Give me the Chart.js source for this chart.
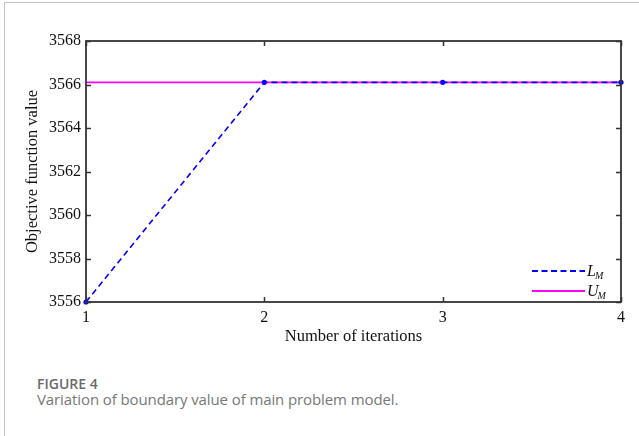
<!DOCTYPE html>
<html>
<head>
<meta charset="utf-8">
<script src="https://cdn.jsdelivr.net/npm/chart.js@4/dist/chart.umd.min.js"></script>
<style>
  html, body { margin: 0; padding: 0; background: #fff; }
  body { width: 639px; height: 436px; position: relative; overflow: hidden; }
  #card { position: absolute; left: 4px; top: 2px; width: 700px; height: 500px;
          border-left: 1px solid #c4c4c4; border-top: 1px solid #c4c4c4; }
  #wrap { position: absolute; left: 0; top: 0; width: 639px; height: 360px; }
  .cap { position: absolute; left: 37px; font-family: "Open Sans", sans-serif; color: #666; line-height: 1; white-space: nowrap; }
  #figno { top: 377px; font-size: 14px; font-weight: 600; color: #6a6a6a; }
  #figtxt { top: 392px; font-size: 15px; font-weight: 400; color: #777; letter-spacing: -0.1px; }
</style>
</head>
<body>
<div id="card"></div>
<div id="wrap"><canvas id="chart" width="639" height="360"></canvas></div>
<div class="cap" id="figno">FIGURE 4</div>
<div class="cap" id="figtxt">Variation of boundary value of main problem model.</div>
<script>
// Iteration numbers and the two bounds of the main problem
const iterations = [1, 2, 3, 4];
const lowerBound = [3556, 3566.1, 3566.1, 3566.1];   // L_M
const upperBound = [3566.1, 3566.1, 3566.1, 3566.1]; // U_M
const yTicks = [3556, 3558, 3560, 3562, 3564, 3566, 3568];
const xTicks = [1, 2, 3, 4];

const serif = '"Liberation Serif", "Times New Roman", serif';
const BLUE = '#0000ff';
const MAGENTA = '#ff00ff';

const toPoints = ys => iterations.map((x, i) => ({ x, y: ys[i] }));

// Box frame with inward tick marks on all four sides
const framePlugin = {
  id: 'frame',
  beforeDatasetsDraw(chart) {
    const { ctx, chartArea: a, scales: { x, y } } = chart;
    ctx.save();
    ctx.strokeStyle = '#333';
    ctx.lineWidth = 1.5;
    ctx.beginPath();
    const t = 5;
    xTicks.forEach(v => {
      const px = Math.round(x.getPixelForValue(v)) + 0.5;
      ctx.moveTo(px, a.bottom); ctx.lineTo(px, a.bottom - t);
      ctx.moveTo(px, a.top); ctx.lineTo(px, a.top + t);
    });
    yTicks.forEach(v => {
      const py = Math.round(y.getPixelForValue(v)) + 0.5;
      ctx.moveTo(a.left, py); ctx.lineTo(a.left + t, py);
      ctx.moveTo(a.right, py); ctx.lineTo(a.right - t, py);
    });
    ctx.stroke();
    ctx.restore();
  },
  afterDatasetsDraw(chart) {
    const { ctx, chartArea: a } = chart;
    ctx.save();
    ctx.strokeStyle = '#333';
    ctx.lineWidth = 1.8;
    ctx.strokeRect(a.left, a.top, a.right - a.left, a.bottom - a.top);
    ctx.restore();
  }
};

// Legend in the lower right corner, with subscripted italic labels
const legendPlugin = {
  id: 'boundLegend',
  afterDraw(chart) {
    const { ctx, chartArea: a } = chart;
    const items = [
      { main: 'L', sub: 'M', color: BLUE, dash: [6, 3.5] },
      { main: 'U', sub: 'M', color: MAGENTA, dash: [] }
    ];
    const x0 = a.right - 89, x1 = a.right - 36;
    ctx.save();
    items.forEach((it, i) => {
      const yy = a.bottom - 31 + i * 20;
      ctx.strokeStyle = it.color;
      ctx.lineWidth = 2;
      ctx.setLineDash(it.dash);
      ctx.beginPath();
      ctx.moveTo(x0, yy); ctx.lineTo(x1, yy);
      ctx.stroke();
      ctx.setLineDash([]);
      ctx.fillStyle = '#111';
      ctx.textBaseline = 'alphabetic';
      ctx.textAlign = 'left';
      ctx.font = 'italic 16px ' + serif;
      ctx.fillText(it.main, x1 + 2, yy + 5);
      const w = ctx.measureText(it.main).width;
      ctx.font = 'italic 10px ' + serif;
      ctx.fillText(it.sub, x1 + 1 + w, yy + 8);
    });
    ctx.restore();
  }
};

new Chart(document.getElementById('chart'), {
  type: 'line',
  data: {
    datasets: [
      {
        label: 'L_M',
        data: toPoints(lowerBound),
        borderColor: BLUE,
        backgroundColor: BLUE,
        borderWidth: 1.6,
        borderDash: [6, 4],
        pointRadius: 2.6,
        pointBorderWidth: 0,
        pointBackgroundColor: BLUE,
        tension: 0,
        clip: 5
      },
      {
        label: 'U_M',
        data: toPoints(upperBound),
        borderColor: MAGENTA,
        backgroundColor: MAGENTA,
        borderWidth: 1.6,
        pointRadius: 0,
        tension: 0,
        clip: 5
      }
    ]
  },
  options: {
    responsive: false,
    animation: false,
    events: [],
    layout: { padding: { top: 41, right: 18, left: 0, bottom: 0 } },
    plugins: { legend: { display: false }, tooltip: { enabled: false } },
    scales: {
      x: {
        type: 'linear',
        min: 1, max: 4,
        afterBuildTicks: s => { s.ticks = xTicks.map(v => ({ value: v })); },
        afterFit: s => { s.height = 58; },
        grid: { display: false, drawTicks: false },
        border: { display: false },
        ticks: { padding: 6, color: '#111', font: { family: serif, size: 16 }, callback: v => String(v) },
        title: {
          display: true, text: 'Number of iterations', color: '#111',
          font: { family: serif, size: 16.5 }, padding: { top: 0, bottom: 13 }
        }
      },
      y: {
        type: 'linear',
        min: 3556, max: 3568,
        afterBuildTicks: s => { s.ticks = yTicks.map(v => ({ value: v })); },
        afterFit: s => { s.width = 86; },
        grid: { display: false, drawTicks: false },
        border: { display: false },
        ticks: { padding: 5, color: '#111', font: { family: serif, size: 16 }, callback: v => String(v) },
        title: {
          display: true, text: 'Objective function value', color: '#111',
          font: { family: serif, size: 16.5 }, padding: { top: 23, bottom: 0 }
        }
      }
    }
  },
  plugins: [framePlugin, legendPlugin]
});
</script>
</body>
</html>
